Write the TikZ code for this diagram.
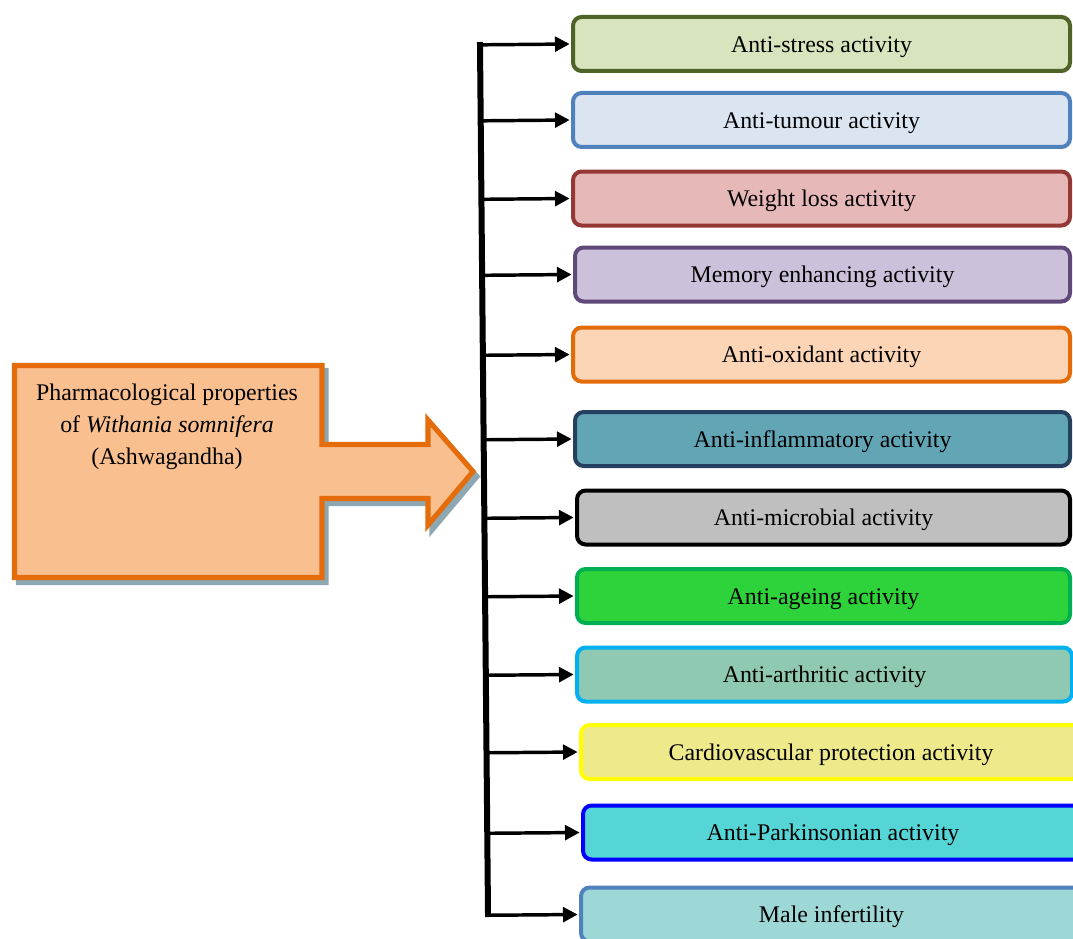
\documentclass[tikz,border=0pt]{standalone}
\usepackage{fontspec}
\setmainfont{Liberation Serif}
\usetikzlibrary{arrows.meta,calc}
\definecolor{c1f}{HTML}{D7E4BD}\definecolor{c1d}{HTML}{4F6228}
\definecolor{c2f}{HTML}{DBE5F1}\definecolor{c2d}{HTML}{4F81BD}
\definecolor{c3f}{HTML}{E6B9B8}\definecolor{c3d}{HTML}{953735}
\definecolor{c4f}{HTML}{CCC1DA}\definecolor{c4d}{HTML}{5F497A}
\definecolor{c5f}{HTML}{FBD5B5}\definecolor{c5d}{HTML}{E36C09}
\definecolor{c6f}{HTML}{62A6B6}\definecolor{c6d}{HTML}{26405F}
\definecolor{c7f}{HTML}{BFBFBF}\definecolor{c7d}{HTML}{000000}
\definecolor{c8f}{HTML}{2ED23A}\definecolor{c8d}{HTML}{00B050}
\definecolor{c9f}{HTML}{8FC9B2}\definecolor{c9d}{HTML}{00B0F0}
\definecolor{c10f}{HTML}{EEE98B}\definecolor{c10d}{HTML}{FFFF00}
\definecolor{c11f}{HTML}{55D5D6}\definecolor{c11d}{HTML}{0000FF}
\definecolor{c12f}{HTML}{9ED8D6}\definecolor{c12d}{HTML}{4F81BD}
\definecolor{arrfill}{HTML}{F9BF8F}\definecolor{arrdraw}{HTML}{E46C0A}
\definecolor{shadowc}{HTML}{8EA8B3}
\begin{document}
\begin{tikzpicture}[x=0.75pt,y=-0.75pt,
  actbox/.style 2 args={draw=#1, fill=#2, line width=3pt, rounded corners=6.5pt,
    minimum height=40.5pt, anchor=west, inner sep=0pt, text height=12.5pt, text depth=0pt,
    font=\fontsize{17.9}{21.5}\selectfont},
  trunk/.style={line width=4.5pt, line cap=rect},
  branch/.style={line width=2.6pt, -{Triangle[length=11pt,width=11pt]}, shorten >=1pt},
  bigarrow/.style={draw=arrdraw, fill=arrfill, line width=3.8pt, line join=miter},
  arrshadow/.style={draw=shadowc, fill=shadowc, line width=3.8pt, line join=miter},
  maintext/.style={align=center, font=\fontsize{17.9}{23.8}\selectfont}]
\useasboundingbox (0,0) rectangle (1073,938);
% big arrow shape with shadow
\draw[arrshadow, shift={(4,5)}] (14.5,365.5) -- (322,365.5) -- (322,444.5) -- (428,444.5) -- (428,420) -- (473,471.5) -- (428,525) -- (428,498.5) -- (322,498.5) -- (322,577.5) -- (14.5,577.5) -- cycle;
\draw[bigarrow] (14.5,365.5) -- (322,365.5) -- (322,444.5) -- (428,444.5) -- (428,420) -- (473,471.5) -- (428,525) -- (428,498.5) -- (322,498.5) -- (322,577.5) -- (14.5,577.5) -- cycle;
\node[maintext] (src) at (167,427) {Pharmacological properties\\ of \textit{Withania somnifera}\\ (Ashwagandha)};
% activity boxes
\node[actbox={c1d}{c1f}, minimum width=372.75pt] (b1) at (571,44) {Anti-stress activity};
\node[actbox={c2d}{c2f}, minimum width=372.75pt] (b2) at (571,120) {Anti-tumour activity};
\node[actbox={c3d}{c3f}, minimum width=372.75pt] (b3) at (571,198.5) {Weight loss activity};
\node[actbox={c4d}{c4f}, minimum width=371.25pt] (b4) at (573,274.5) {Memory enhancing activity};
\node[actbox={c5d}{c5f}, minimum width=372.75pt] (b5) at (571,354.5) {Anti-oxidant activity};
\node[actbox={c6d}{c6f}, minimum width=371.25pt] (b6) at (573,439) {Anti-inflammatory activity};
\node[actbox={c7d}{c7f}, minimum width=369.75pt] (b7) at (575,517.5) {Anti-microbial activity};
\node[actbox={c8d}{c8f}, minimum width=369.75pt] (b8) at (575,596) {Anti-ageing activity};
\node[actbox={c9d}{c9f}, minimum width=371.25pt] (b9) at (575,674.5) {Anti-arthritic activity};
\node[actbox={c10d}{c10f}, minimum width=375pt] (b10) at (579,752) {Cardiovascular protection activity};
\node[actbox={c11d}{c11f}, minimum width=375pt] (b11) at (581,832.5) {Anti-Parkinsonian activity};
\node[actbox={c12d}{c12f}, minimum width=375.75pt] (b12) at (579,914.5) {Male infertility};
% trunk
\coordinate (vt) at (480,45);
\coordinate (vb) at (488,914);
\draw[trunk] (vt) -- (vb);
\foreach \i in {1,...,12}{
  \draw[branch] ($(vt)!(b\i.west)!(vb)$) -- (b\i.west);
}
\end{tikzpicture}
\end{document}
